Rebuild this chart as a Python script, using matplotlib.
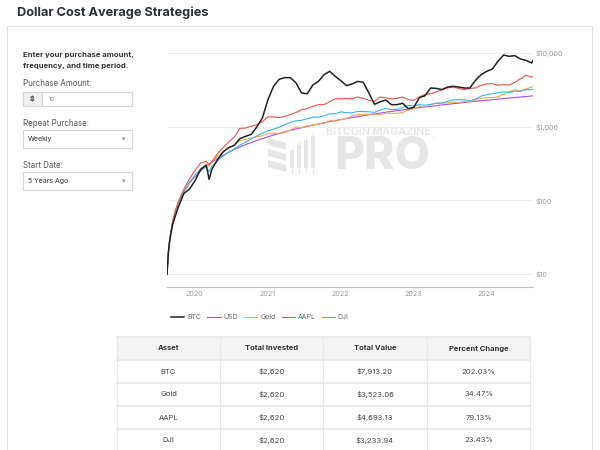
import datetime as dt
import matplotlib.pyplot as plt
import matplotlib.dates as mdates
from matplotlib.patches import Rectangle, Polygon
from matplotlib.ticker import FuncFormatter, NullLocator

plt.rcParams['font.family'] = ['Inter', 'DejaVu Sans']

# weekly $10 purchases, first buy 2019-08-19
start = dt.date(2019, 8, 19)
weeks = [1, 2, 3, 5, 7, 9, 13, 17, 21, 25, 29, 31, 33,
         37, 41, 45, 49, 53, 57, 61, 65, 69, 73, 77, 81, 85, 89, 93, 97,
         101, 105, 109, 113, 117, 121, 125, 129, 133, 137, 141, 145, 149,
         153, 157, 161, 165, 169, 173, 177, 181, 185, 189, 193, 197, 201,
         205, 209, 213, 217, 221, 225, 229, 233, 237, 241, 245, 249, 253,
         257, 261, 262]

usd = [10, 20, 30, 50, 70, 90, 130, 170, 210, 250, 290, 310, 330,
       370, 410, 450, 490, 530, 570, 610, 650, 690, 730, 770, 810, 850, 890, 930, 970,
       1010, 1050, 1090, 1130, 1170, 1210, 1250, 1290, 1330, 1370, 1410, 1450, 1490,
       1530, 1570, 1610, 1650, 1690, 1730, 1770, 1810, 1850, 1890, 1930, 1970, 2010,
       2050, 2090, 2130, 2170, 2210, 2250, 2290, 2330, 2370, 2410, 2450, 2490, 2530,
       2570, 2610, 2620]

btc = [10, 19.5, 29, 47, 62, 80, 124, 142, 185, 265, 300, 193, 265,
       355, 455, 520, 560, 690, 740, 785, 990, 1310, 2330, 3530, 4400, 4630, 4630, 3920, 2860,
       2800, 3680, 4120, 5080, 5640, 4820, 4210, 3610, 3800, 4120, 4000, 2860, 2010,
       2180, 2300, 1990, 1990, 2080, 1760, 1830, 2480, 2630, 3350, 3310, 3180, 3450,
       3530, 3450, 3350, 3350, 4260, 5080, 5640, 6060, 7710, 9400, 9010, 9200, 8300,
       7950, 7320, 7913.20]

gold = [10, 20.2, 30.4, 50.5, 70.5, 90, 130, 172, 216, 258, 305, 290, 330,
        400, 455, 510, 560, 650, 673, 700, 728, 752, 810, 816, 802, 833, 899, 986, 970,
        1030, 1050, 1090, 1107, 1205, 1198, 1250, 1290, 1397, 1452, 1480, 1479, 1490,
        1438, 1539, 1513, 1518, 1555, 1678, 1770, 1882, 1832, 2003, 2084, 2088, 2111,
        2153, 2132, 2194, 2148, 2321, 2430, 2496, 2493, 2536, 2747, 2989, 3162, 3061,
        3238, 3450, 3523.06]

aapl = [10, 20.3, 30.6, 51.5, 73, 95, 142, 195, 255, 320, 340, 305, 335,
        430, 520, 620, 720, 950, 960, 1010, 1065, 1170, 1360, 1360, 1330, 1380, 1460, 1560, 1700,
        1760, 1890, 1990, 1990, 2190, 2400, 2380, 2420, 2380, 2530, 2420, 2280, 2210,
        2530, 2470, 2380, 2420, 2530, 2330, 2280, 2530, 2750, 2800, 2950, 3180, 3350,
        3450, 3310, 3180, 3310, 3350, 3650, 3800, 3840, 3650, 3720, 3680, 4000, 4430,
        4980, 4720, 4693.13]

dji = [10, 20.1, 30.2, 50.6, 71, 92, 134, 178, 222, 262, 285, 245, 290,
       345, 400, 450, 500, 562, 616, 683, 748, 814, 876, 924, 988, 1071, 1139, 1200, 1222,
       1283, 1344, 1352, 1401, 1498, 1500, 1588, 1548, 1543, 1617, 1607, 1595, 1565,
       1683, 1774, 1707, 1716, 1825, 1938, 1912, 1991, 1961, 2003, 2084, 2088, 2211,
       2317, 2320, 2322, 2257, 2365, 2610, 2725, 2796, 2891, 2988, 2891, 3038, 3011,
       3187, 3184, 3233.94]

table_cols = ['Asset', 'Total Invested', 'Total Value', 'Percent Change']
assets = ['BTC', 'Gold', 'AAPL', 'DJI']
invested = ['$2,620', '$2,620', '$2,620', '$2,620']
total_value = ['$7,913.20', '$3,523.06', '$4,693.13', '$3,233.94']
pct_change = ['202.03%', '34.47%', '79.13%', '23.43%']

dates = [start + dt.timedelta(weeks=w - 1) for w in weeks]

fig = plt.figure(figsize=(6, 4.5), dpi=100)

# page background drawn in pixel coordinates
bg = fig.add_axes([0, 0, 1, 1])
bg.set_xlim(0, 600)
bg.set_ylim(450, 0)
bg.axis('off')

line_c = '#e4e4e4'
bg.plot([7, 592], [26, 26], color=line_c, lw=0.8)
bg.plot([7, 7], [26, 450], color=line_c, lw=0.8)
bg.plot([592, 592], [26, 450], color=line_c, lw=0.8)

bg.text(17, 13, 'Dollar Cost Average Strategies', fontsize=9.2, fontweight='bold',
        color='#2b2f36', va='center')

# form on the left
bg.text(23, 55, 'Enter your purchase amount,', fontsize=5.6, fontweight='bold', color='#333333', va='center')
bg.text(23, 66, 'frequency, and time period.', fontsize=5.6, fontweight='bold', color='#333333', va='center')
label_c = '#555555'
bg.text(23, 84, 'Purchase Amount:', fontsize=5.7, color=label_c, va='center')
bg.add_patch(Rectangle((23, 92), 109, 14, facecolor='white', edgecolor='#d6d6d6', lw=0.8))
bg.add_patch(Rectangle((23, 92), 19, 14, facecolor='#f0f0f0', edgecolor='#d6d6d6', lw=0.8))
bg.text(32.5, 99, '$', fontsize=5.2, fontweight='bold', color='#444444', ha='center', va='center')
bg.text(49, 99.5, '10', fontsize=4.3, color='#888888', va='center')

bg.text(23, 123, 'Repeat Purchase:', fontsize=5.7, color=label_c, va='center')
bg.add_patch(Rectangle((23, 130), 109, 18, facecolor='white', edgecolor='#d6d6d6', lw=0.8))
bg.text(28, 139, 'Weekly', fontsize=5.0, color='#333333', va='center')
bg.text(124, 139, '▾', fontsize=5, color='#999999', ha='center', va='center')

bg.text(23, 165, 'Start Date:', fontsize=5.7, color=label_c, va='center')
bg.add_patch(Rectangle((23, 172), 109, 18, facecolor='white', edgecolor='#d6d6d6', lw=0.8))
bg.text(28, 181, '5 Years Ago', fontsize=5.0, color='#333333', va='center')
bg.text(124, 181, '▾', fontsize=5, color='#999999', ha='center', va='center')

# watermark
wm = '#e6e6e6'
bg.text(378, 132, 'BITCOIN MAGAZINE', fontsize=7.6, fontweight='bold', color=wm,
        ha='center', va='center')
bg.text(382, 157, 'PRO', fontsize=33, fontweight='heavy', color=wm, ha='center', va='center')
bg.text(434, 140, '®', fontsize=4, color=wm, ha='center', va='center')
for i in range(3):
    y0 = 138 + i * 11
    bg.add_patch(Polygon([(268, y0), (286, y0 + 5), (286, y0 + 12), (268, y0 + 7)],
                         closed=True, facecolor=wm, edgecolor='none'))
for i, (bx, top) in enumerate([(290, 150), (297, 145), (304, 140), (311, 136)]):
    bg.add_patch(Rectangle((bx, top), 4, 168 - top, facecolor=wm, edgecolor='none'))
    bg.plot([bx + 2, bx + 2], [top - 3, 173], color=wm, lw=0.8)

# table
tx = [117, 220, 323, 427, 530]
ty = [337, 360, 383, 406, 429, 452]
bg.add_patch(Rectangle((tx[0], ty[0]), tx[-1] - tx[0], ty[1] - ty[0], facecolor='#f3f3f3',
                       edgecolor='none'))
for yy in ty:
    bg.plot([tx[0], tx[-1]], [yy, yy], color='#e8e8e8', lw=1.2)
for xx in tx:
    bg.plot([xx, xx], [ty[0], ty[-1]], color='#e8e8e8', lw=0.8)
centers = [(tx[i] + tx[i + 1]) / 2 for i in range(4)]
for c, name in zip(centers, table_cols):
    bg.text(c, 348.5, name, fontsize=5.5, fontweight='bold', color='#333333', ha='center', va='center')
for r, row in enumerate(zip(assets, invested, total_value, pct_change)):
    yc = (ty[r + 1] + ty[r + 2]) / 2
    for c, val in zip(centers, row):
        bg.text(c, yc, val, fontsize=5.5, color='#444444', ha='center', va='center')

# chart
ax = fig.add_axes([167 / 600, 1 - 287 / 450, 366 / 600, 234 / 450])
ax.set_facecolor('none')
series = [('BTC', btc, '#222222', 1.1, 6),
          ('USD', usd, '#a64cf0', 0.8, 3),
          ('Gold', gold, '#ffa43d', 0.8, 4),
          ('AAPL', aapl, '#f24f4f', 0.8, 5),
          ('DJI', dji, '#36b9ea', 0.8, 4)]
handles = []
for name, vals, col, lw, z in series:
    h, = ax.plot(dates, vals, color=col, lw=lw, zorder=z, label=name)
    handles.append(h)

ax.set_yscale('log')
ax.set_ylim(6.68, 10000)
ax.set_xlim(dates[0], dates[-1])
ax.set_yticks([10, 100, 1000, 10000])
ax.yaxis.set_minor_locator(NullLocator())
ax.yaxis.set_major_formatter(FuncFormatter(lambda v, p: '${:,.0f}'.format(v)))
ax.yaxis.tick_right()
ax.xaxis.set_major_locator(mdates.YearLocator())
ax.xaxis.set_major_formatter(mdates.DateFormatter('%Y'))
ax.tick_params(axis='both', length=0, labelsize=5.2, colors='#999999')
ax.tick_params(axis='y', pad=2)
ax.tick_params(axis='x', pad=3)
ax.grid(axis='y', color='#ededed', lw=0.8, zorder=0)
for s in ['top', 'left', 'right']:
    ax.spines[s].set_visible(False)
ax.spines['bottom'].set_color('#c4c4c4')
ax.spines['bottom'].set_linewidth(0.8)

fig.legend(handles, [s[0] for s in series], loc='center left',
           bbox_to_anchor=(165 / 600, 1 - 317 / 450), ncol=5, frameon=False,
           fontsize=5, handlelength=1.9, handletextpad=0.4, columnspacing=0.9,
           labelcolor='#666666')

fig.savefig('out.png', dpi=100)
